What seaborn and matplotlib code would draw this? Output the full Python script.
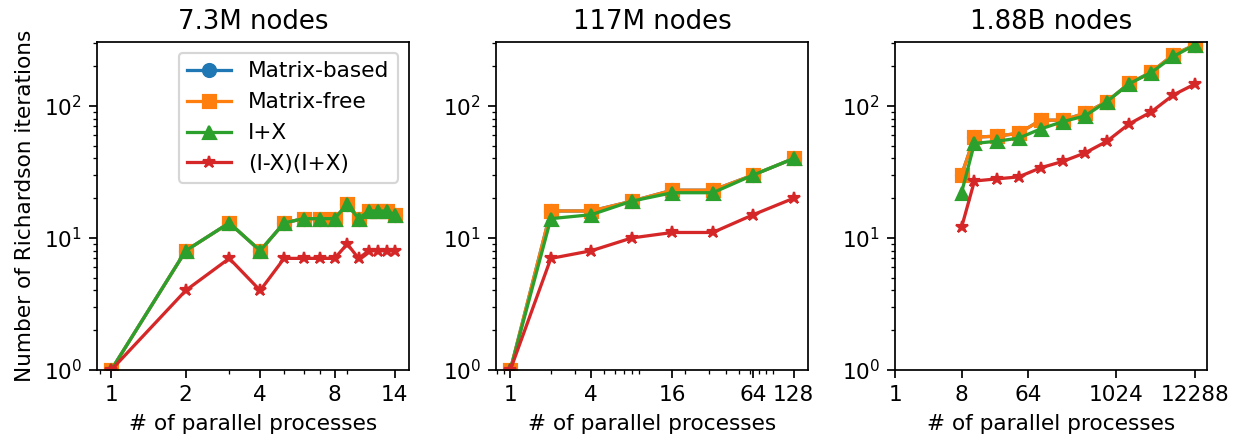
import matplotlib
matplotlib.use("Agg")
import matplotlib.pyplot as plt
from matplotlib.ticker import NullLocator
import seaborn as sns
import pandas as pd

methods = ["Matrix-based", "Matrix-free", "I+X", "(I-X)(I+X)"]
colors = ["#1f77b4", "#ff7f0e", "#2ca02c", "#d62728"]
markers = ["o", "s", "^", "*"]

titles = ["7.3M nodes", "117M nodes", "1.88B nodes"]

# 7.3M nodes
procs_a = [1, 2, 3, 4, 5, 6, 7, 8, 9, 10, 11, 12, 13, 14]
iters_a = {
    "Matrix-based": [1, 8, 13, 8, 13, 14, 14, 14, 18, 14, 16, 16, 16, 15],
    "Matrix-free":  [1, 8, 13, 8, 13, 14, 14, 14, 18, 14, 16, 16, 16, 15],
    "I+X":          [1, 8, 13, 8, 13, 14, 14, 14, 18, 14, 16, 16, 16, 15],
    "(I-X)(I+X)":   [1, 4, 7, 4, 7, 7, 7, 7, 9, 7, 8, 8, 8, 8],
}
ticks_a = [1, 2, 4, 8, 14]

# 117M nodes
procs_b = [1, 2, 4, 8, 16, 32, 64, 128]
iters_b = {
    "Matrix-based": [1, 16, 16, 19, 23, 23, 30, 40],
    "Matrix-free":  [1, 16, 16, 19, 23, 23, 30, 40],
    "I+X":          [1, 14, 15, 19, 22, 22, 30, 40],
    "(I-X)(I+X)":   [1, 7, 8, 10, 11, 11, 15, 20],
}
ticks_b = [1, 4, 16, 64, 128]

# 1.88B nodes
procs_c = [8, 12, 24, 48, 96, 192, 384, 768, 1536, 3072, 6144, 12288]
iters_c = {
    "Matrix-based": [30, 58, 59, 62, 78, 78, 88, 108, 148, 180, 244, 291],
    "Matrix-free":  [30, 58, 59, 62, 78, 78, 88, 108, 148, 180, 244, 291],
    "I+X":          [22, 52, 54, 57, 67, 76, 84, 108, 147, 179, 237, 291],
    "(I-X)(I+X)":   [12, 27, 28, 29, 34, 38, 44, 54, 73, 90, 121, 147],
}
ticks_c = [1, 8, 64, 1024, 12288]

panels = [(procs_a, iters_a, ticks_a), (procs_b, iters_b, ticks_b), (procs_c, iters_c, ticks_c)]

plt.rcParams["font.family"] = ["DejaVu Sans"]

# plain matplotlib look, rendered at a larger dpi like the original
fig, axes = plt.subplots(1, 3, figsize=(1245 / 156, 442 / 156), dpi=156)
fig.subplots_adjust(left=0.078, right=0.9695, bottom=0.163, top=0.905, wspace=0.28)

for i, (ax, (procs, iters, ticks)) in enumerate(zip(axes, panels)):
    for m, c, mk in zip(methods, colors, markers):
        df = pd.DataFrame({"procs": procs, "iters": iters[m]})
        sns.lineplot(data=df, x="procs", y="iters", ax=ax, color=c, marker=mk,
                     markersize=6, markeredgecolor=c, markeredgewidth=1,
                     linewidth=1.5, label=m, legend=False)
    ax.set_xscale("log")
    ax.set_yscale("log")
    ax.set_xticks(ticks)
    ax.set_xticklabels([str(t) for t in ticks])
    ax.set_ylim(1, 305)
    ax.set_title(titles[i])
    ax.set_xlabel("# of parallel processes")
    ax.set_ylabel("")
    if i == 2:
        ax.xaxis.set_minor_locator(NullLocator())

axes[0].set_ylabel("Number of Richardson iterations")
axes[0].legend(loc="upper right")

fig.savefig("out.png", dpi=156)
